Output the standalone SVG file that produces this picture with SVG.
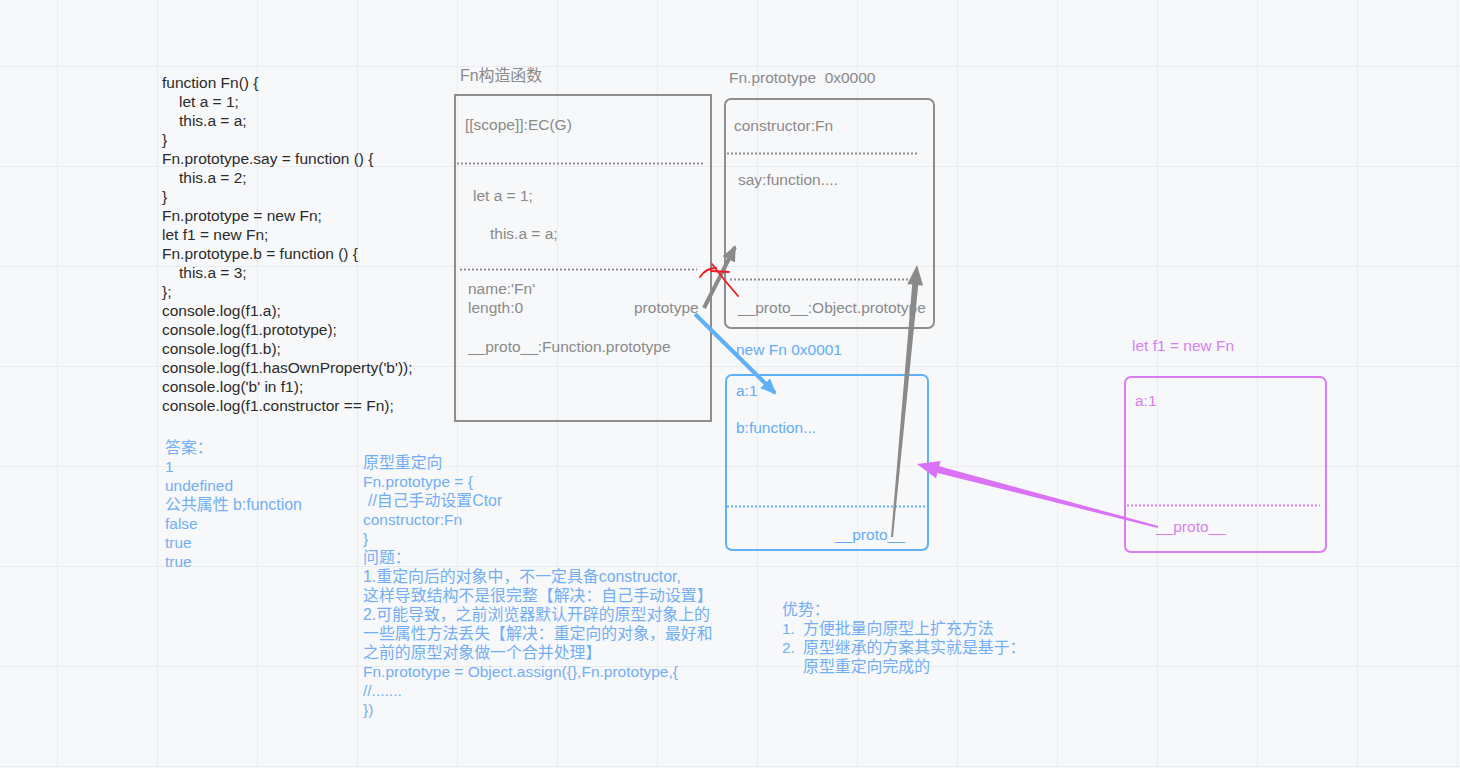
<svg xmlns="http://www.w3.org/2000/svg" width="1460" height="768" viewBox="0 0 1460 768">
<defs>
<style>
text{font-family:"Liberation Sans","Noto Sans CJK SC",sans-serif;font-size:15.5px}
.code{fill:#2b2b2b}
.code text{font-size:15.5px}
.note{fill:#74aef2}
.cjk{font-size:15.9px}
.gray{fill:#8a8a8a}
.blue{fill:#62acf4}
.mag{fill:#d77ef2}
.grid{stroke:#eaecef;stroke-width:1}
.gbox{fill:none;stroke:#8e8e8e;stroke-width:2}
.bbox{fill:none;stroke:#5fb0f6;stroke-width:2}
.mbox{fill:none;stroke:#db7cf5;stroke-width:2}
.gdot{stroke:#8e8e8e;stroke-width:2;stroke-dasharray:2 2}
.bdot{stroke:#5fb0f6;stroke-width:2;stroke-dasharray:2 2}
.mdot{stroke:#db7cf5;stroke-width:2;stroke-dasharray:2 2}
</style>
<marker id="ahGray" markerUnits="userSpaceOnUse" markerWidth="16" markerHeight="14" refX="14" refY="7" orient="auto"><path d="M0,0 L16,7 L0,14 z" fill="#8a8a8a"/></marker>
<marker id="ahBlue" markerUnits="userSpaceOnUse" markerWidth="16" markerHeight="14" refX="14" refY="7" orient="auto"><path d="M0,0 L16,7 L0,14 z" fill="#5fb0f6"/></marker>
</defs>
<rect width="1460" height="768" fill="#f7f8fa"/>
<g id="grid">
<path class="grid" d="M57.5,0V768M157.5,0V768M257.5,0V768M357.5,0V768M457.5,0V768M557.5,0V768M657.5,0V768M757.5,0V768M857.5,0V768M957.5,0V768M1057.5,0V768M1157.5,0V768M1257.5,0V768M1357.5,0V768M1457.5,0V768"/>
<path class="grid" d="M0,66.5H1460M0,166.5H1460M0,266.5H1460M0,366.5H1460M0,466.5H1460M0,566.5H1460M0,666.5H1460M0,766.5H1460"/>
</g>
<g id="code" class="code">
<text x="162" y="88">function Fn() {</text>
<text x="179" y="107">let a = 1;</text>
<text x="179" y="126">this.a = a;</text>
<text x="162" y="145">}</text>
<text x="162" y="164">Fn.prototype.say = function () {</text>
<text x="179" y="183">this.a = 2;</text>
<text x="162" y="202">}</text>
<text x="162" y="221">Fn.prototype = new Fn;</text>
<text x="162" y="240">let f1 = new Fn;</text>
<text x="162" y="259">Fn.prototype.b = function () {</text>
<text x="179" y="278">this.a = 3;</text>
<text x="162" y="297">};</text>
<text x="162" y="316">console.log(f1.a);</text>
<text x="162" y="335">console.log(f1.prototype);</text>
<text x="162" y="354">console.log(f1.b);</text>
<text x="162" y="373">console.log(f1.hasOwnProperty('b'));</text>
<text x="162" y="392">console.log('b' in f1);</text>
<text x="162" y="411">console.log(f1.constructor == Fn);</text>
</g>
<g id="answer" class="note">
<text x="165" y="453" class="cjk">答案：</text>
<text x="165" y="472">1</text>
<text x="165" y="491">undefined</text>
<text x="165" y="510" class="cjk">公共属性 b:function</text>
<text x="165" y="529">false</text>
<text x="165" y="548">true</text>
<text x="165" y="567">true</text>
</g>
<g id="notes" class="note">
<text x="363" y="468" class="cjk">原型重定向</text>
<text x="363" y="487">Fn.prototype = {</text>
<text x="368" y="506" class="cjk">//自己手动设置Ctor</text>
<text x="363" y="525">constructor:Fn</text>
<text x="363" y="544">}</text>
<text x="363" y="563" class="cjk">问题：</text>
<text x="363" y="582" class="cjk">1.重定向后的对象中，不一定具备constructor,</text>
<text x="363" y="601" class="cjk">这样导致结构不是很完整【解决：自己手动设置】</text>
<text x="363" y="620" class="cjk">2.可能导致，之前浏览器默认开辟的原型对象上的</text>
<text x="363" y="639" class="cjk">一些属性方法丢失【解决：重定向的对象，最好和</text>
<text x="363" y="658" class="cjk">之前的原型对象做一个合并处理】</text>
<text x="363" y="677">Fn.prototype = Object.assign({},Fn.prototype,{</text>
<text x="363" y="696">//.......</text>
<text x="363" y="715">})</text>
</g>
<g id="advantages" class="note">
<text x="782" y="615" class="cjk">优势：</text>
<text x="782" y="634">1.</text><text x="803" y="634" class="cjk">方便批量向原型上扩充方法</text>
<text x="782" y="653">2.</text><text x="803" y="653" class="cjk">原型继承的方案其实就是基于：</text>
<text x="803" y="672" class="cjk">原型重定向完成的</text>
</g>
<g id="node-fn">
<text class="gray cjk" x="460" y="81">Fn构造函数</text>
<rect class="gbox" x="455" y="95" width="256" height="326"/>
<line class="gdot" x1="457" y1="163.5" x2="705" y2="163.5"/>
<line class="gdot" x1="460" y1="269.5" x2="697" y2="269.5"/>
<text class="gray" x="465" y="130">[[scope]]:EC(G)</text>
<text class="gray" x="473" y="201">let a = 1;</text>
<text class="gray" x="490" y="239">this.a = a;</text>
<text class="gray" x="468" y="294">name:'Fn'</text>
<text class="gray" x="468" y="313">length:0</text>
<text class="gray" x="634" y="313">prototype</text>
<text class="gray" x="468" y="352">__proto__:Function.prototype</text>
</g>
<g id="node-fn-prototype">
<text class="gray" x="729" y="83" xml:space="preserve">Fn.prototype  0x0000</text>
<rect class="gbox" x="725" y="99" width="209" height="229" rx="6"/>
<line class="gdot" x1="727" y1="153.5" x2="919" y2="153.5"/>
<line class="gdot" x1="730" y1="279.5" x2="920" y2="279.5"/>
<text class="gray" x="734" y="131">constructor:Fn</text>
<text class="gray" x="738" y="185">say:function....</text>
<text class="gray" x="738" y="313">__proto__:Object.prototype</text>
</g>
<g id="node-new-fn">
<text class="blue" x="736" y="355">new Fn 0x0001</text>
<rect class="bbox" x="726" y="375" width="202" height="175" rx="6"/>
<line class="bdot" x1="727" y1="506.5" x2="925" y2="506.5"/>
<text class="blue" x="736" y="396">a:1</text>
<text class="blue" x="736" y="433">b:function...</text>
<text class="blue" x="835" y="540">__proto__</text>
</g>
<g id="node-f1">
<text class="mag" x="1132" y="351">let f1 = new Fn</text>
<rect class="mbox" x="1125" y="377" width="201" height="175" rx="6"/>
<line class="mdot" x1="1127" y1="505.5" x2="1320" y2="505.5"/>
<text class="mag" x="1135" y="406">a:1</text>
<text class="mag" x="1156" y="532">__proto__</text>
</g>
<g id="connectors">
<line x1="704" y1="308" x2="735" y2="247" stroke="#8a8a8a" stroke-width="4" marker-end="url(#ahGray)"/>
<g fill="none" stroke="#ee1c24" stroke-width="1.8" stroke-linecap="round">
<path d="M700,277 Q706,268 716,268"/>
<path d="M712,264 Q724,280 738,296"/>
<path d="M711,271 L729,272"/>
</g>
<line x1="695" y1="314" x2="775" y2="393" stroke="#5fb0f6" stroke-width="4" marker-end="url(#ahBlue)"/>
<polygon fill="#8a8a8a" points="917,265 923.1,285.6 918.2,285.2 893,537.1 891,536.9 912.2,284.6 907.2,284.2"/>
<polygon fill="#db72f5" points="917,464 940.6,460.9 939.2,466.2 1158.3,526 1157.8,528 937.4,473 936,478.3"/>
</g>
</svg>
